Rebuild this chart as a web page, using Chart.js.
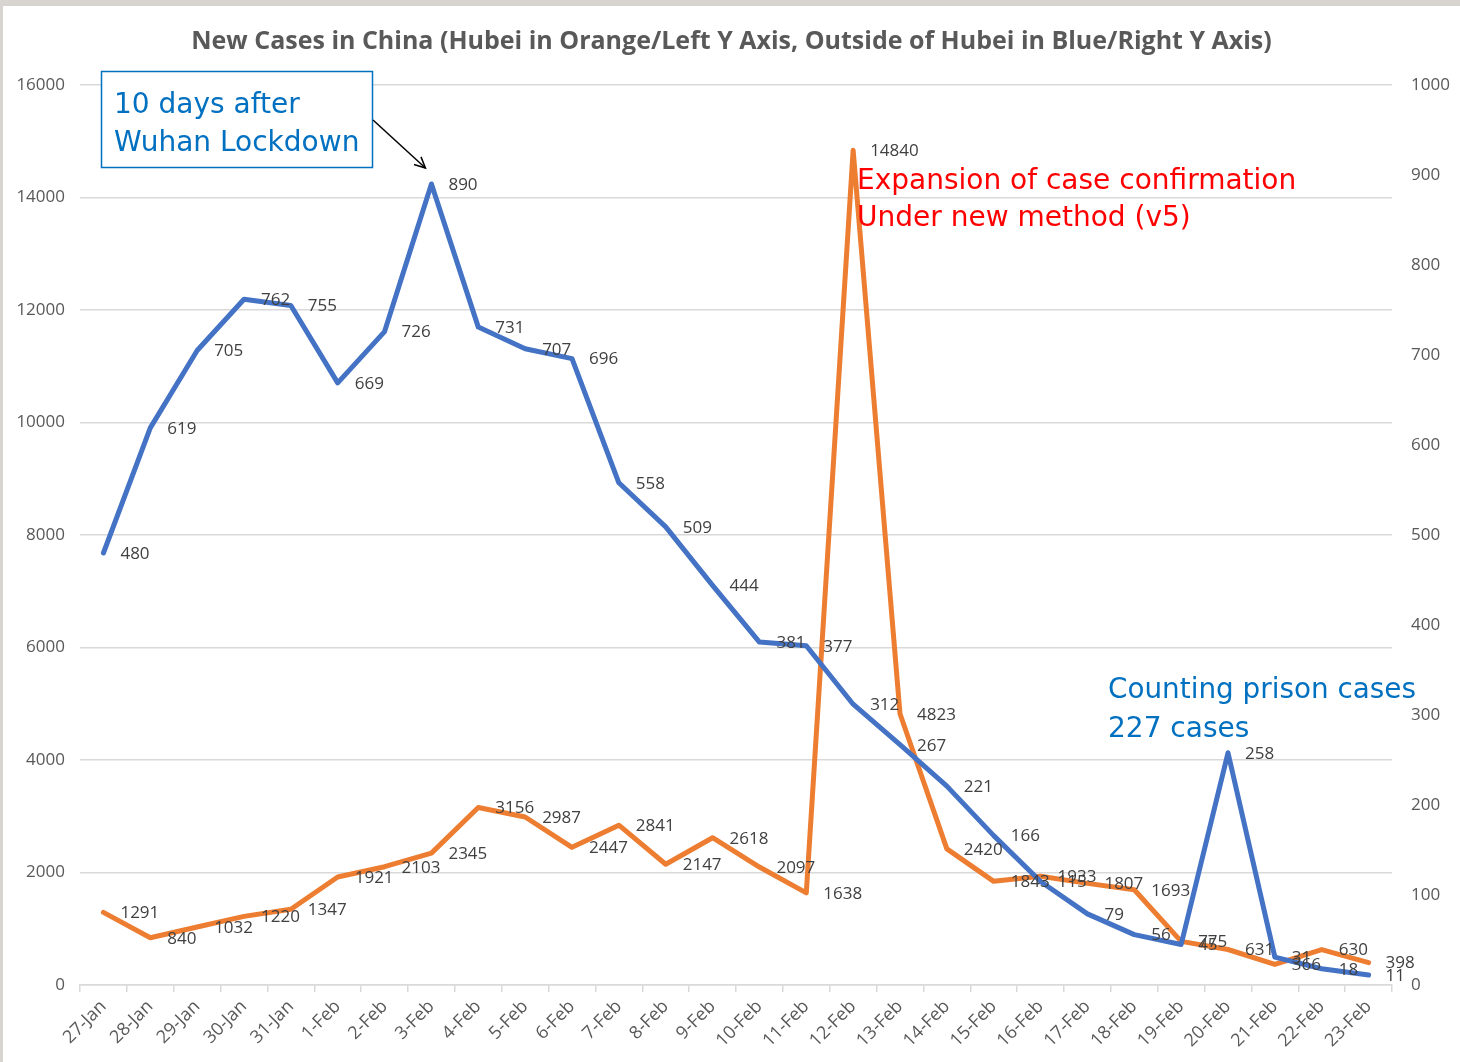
<!DOCTYPE html>
<html>
<head>
<meta charset="utf-8">
<script src="https://cdn.jsdelivr.net/npm/chart.js@4"></script>
<style>
html, body { margin: 0; padding: 0; background: #ffffff; }
#wrap { width: 1460px; height: 1062px; }
</style>
</head>
<body>
<div id="wrap"><canvas id="myChart" width="1460" height="1062"></canvas></div>
<script>
// data
const dates = ["27-Jan","28-Jan","29-Jan","30-Jan","31-Jan","1-Feb","2-Feb","3-Feb","4-Feb","5-Feb",
  "6-Feb","7-Feb","8-Feb","9-Feb","10-Feb","11-Feb","12-Feb","13-Feb","14-Feb","15-Feb",
  "16-Feb","17-Feb","18-Feb","19-Feb","20-Feb","21-Feb","22-Feb","23-Feb"];
const hubei = [1291,840,1032,1220,1347,1921,2103,2345,3156,2987,
  2447,2841,2147,2618,2097,1638,14840,4823,2420,1843,
  1933,1807,1693,775,631,366,630,398];
const outsideHubei = [480,619,705,762,755,669,726,890,731,707,
  696,558,509,444,381,377,312,267,221,166,
  115,79,56,45,258,31,18,11];
const leftMax = 16000, leftStep = 2000;
const rightMax = 1000, rightStep = 100;

const titleText = "New Cases in China (Hubei in Orange/Left Y Axis, Outside of Hubei in Blue/Right Y Axis)";

// grey frame at top/left like the screenshot
const frame = {
  id: 'frame',
  beforeDraw(chart){
    const ctx = chart.ctx;
    ctx.save();
    ctx.fillStyle = '#ffffff';
    ctx.fillRect(0,0,chart.width,chart.height);
    ctx.fillStyle = '#d8d5d0';
    ctx.fillRect(0,0,chart.width,6);
    ctx.fillRect(0,0,3,chart.height);
    ctx.restore();
  }
};

// value next to every point
const valueLabels = {
  id: 'valueLabels',
  afterDatasetsDraw(chart){
    const ctx = chart.ctx;
    ctx.save();
    ctx.font = '17px "Open Sans"';
    ctx.fillStyle = '#404040';
    ctx.textBaseline = 'middle';
    ctx.textAlign = 'left';
    chart.data.datasets.forEach((ds, i) => {
      chart.getDatasetMeta(i).data.forEach((pt, j) => {
        ctx.fillText(ds.data[j], pt.x + 17, pt.y + 1);
      });
    });
    ctx.restore();
  }
};

// text boxes and arrow
const notes = {
  id: 'notes',
  afterDraw(chart){
    const ctx = chart.ctx;
    ctx.save();
    ctx.font = '28px "DejaVu Sans"';
    ctx.textBaseline = 'alphabetic';
    ctx.textAlign = 'left';

    // box
    ctx.fillStyle = '#ffffff';
    ctx.fillRect(101, 71, 271, 96);
    ctx.strokeStyle = '#0070C0';
    ctx.lineWidth = 1.5;
    ctx.strokeRect(101.5, 71.5, 271, 96);
    ctx.fillStyle = '#0070C0';
    ctx.fillText("10 days after", 114, 113, 250);
    ctx.fillText("Wuhan Lockdown", 114, 151, 246);

    // arrow to the 3-Feb peak
    const blueMeta = chart.getDatasetMeta(0);
    const peak = blueMeta.data[7];
    const x0 = 373, y0 = 120;
    const x1 = peak.x - 6, y1 = peak.y - 16;
    ctx.strokeStyle = '#000000';
    ctx.lineWidth = 1.5;
    ctx.beginPath();
    ctx.moveTo(x0, y0);
    ctx.lineTo(x1, y1);
    ctx.stroke();
    const ang = Math.atan2(y1 - y0, x1 - x0);
    ctx.beginPath();
    ctx.moveTo(x1 - 12*Math.cos(ang - 0.45), y1 - 12*Math.sin(ang - 0.45));
    ctx.lineTo(x1, y1);
    ctx.lineTo(x1 - 12*Math.cos(ang + 0.45), y1 - 12*Math.sin(ang + 0.45));
    ctx.stroke();

    // red note
    ctx.fillStyle = '#FF0000';
    ctx.fillText("Expansion of case confirmation", 857, 189, 446);
    ctx.fillText("Under new method (v5)", 857, 226);

    // blue note
    ctx.fillStyle = '#0070C0';
    ctx.fillText("Counting prison cases", 1108, 698, 308);
    ctx.fillText("227 cases", 1108, 737);
    ctx.restore();
  }
};

new Chart("myChart", {
  type: "line",
  data: {
    labels: dates,
    datasets: [{
      label: "Outside of Hubei",
      data: outsideHubei,
      yAxisID: 'yRight',
      borderColor: '#4472C4',
      backgroundColor: '#4472C4',
      borderWidth: 5,
      borderJoinStyle: 'round',
      borderCapStyle: 'round',
      pointRadius: 0,
      tension: 0
    },{
      label: "Hubei",
      data: hubei,
      yAxisID: 'yLeft',
      borderColor: '#ED7D31',
      backgroundColor: '#ED7D31',
      borderWidth: 5,
      borderJoinStyle: 'round',
      borderCapStyle: 'round',
      pointRadius: 0,
      tension: 0
    }]
  },
  options: {
    responsive: false,
    animation: false,
    layout: { padding: { top: 6, left: 3, right: 0, bottom: 0 } },
    plugins: {
      legend: { display: false },
      tooltip: { enabled: false },
      title: {
        display: true,
        text: titleText,
        color: '#595959',
        font: { family: 'Open Sans', size: 25, weight: 'bold', lineHeight: 1.2 },
        padding: { top: 21, bottom: 28 }
      }
    },
    scales: {
      x: {
        offset: true,
        grid: { display: true, drawOnChartArea: false, drawTicks: true, tickLength: 7, offset: true, color: '#d9d9d9', lineWidth: 1.5 },
        border: { display: true, color: '#d9d9d9', width: 1.5 },
        ticks: { color: '#595959', font: { family: 'Open Sans', size: 18 }, maxRotation: 45, minRotation: 45, autoSkip: false, padding: 4 },
        afterFit(scale){ scale.height = 77; }
      },
      yLeft: {
        position: 'left',
        min: 0, max: leftMax,
        ticks: { stepSize: leftStep, color: '#595959', font: { family: 'Open Sans', size: 17 }, padding: 15,
          callback: (v) => String(v) },
        grid: { color: '#d9d9d9', lineWidth: 1.5, drawTicks: false },
        border: { display: false },
        afterFit(scale){ scale.width = 77; }
      },
      yRight: {
        position: 'right',
        min: 0, max: rightMax,
        ticks: { stepSize: rightStep, color: '#595959', font: { family: 'Open Sans', size: 17 }, padding: 19,
          callback: (v) => String(v) },
        grid: { drawOnChartArea: false, drawTicks: false },
        border: { display: false },
        afterFit(scale){ scale.width = 68; }
      }
    }
  },
  plugins: [frame, valueLabels, notes]
});
</script>
</body>
</html>
